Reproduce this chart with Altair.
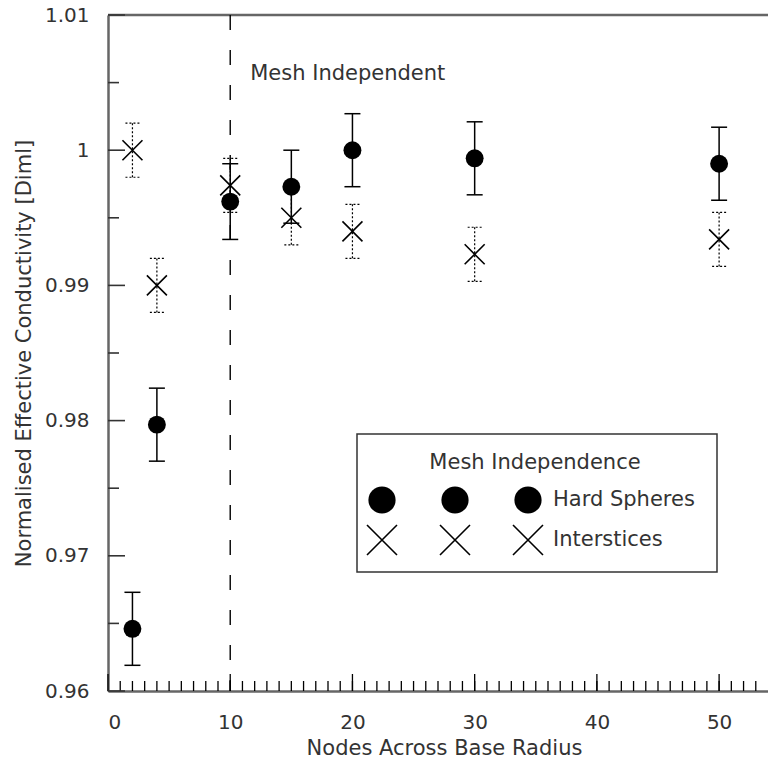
import altair as alt
import pandas as pd

# ---- data ----
nodes = [2, 4, 10, 15, 20, 30, 50]
hard_mean = [0.9646, 0.9797, 0.9962, 0.9973, 1.0000, 0.9994, 0.9990]
hard_err = [0.0027, 0.0027, 0.0028, 0.0027, 0.0027, 0.0027, 0.0027]
inter_mean = [1.0000, 0.9900, 0.9974, 0.9950, 0.9940, 0.9923, 0.9934]
inter_err = [0.0020, 0.0020, 0.0020, 0.0020, 0.0020, 0.0020, 0.0020]

x_major = [0, 10, 20, 30, 40, 50]
x_minor = list(range(1, 54))
y_major = [0.96, 0.97, 0.98, 0.99, 1.00, 1.01]
y_minor = [0.965, 0.975, 0.985, 0.995, 1.005]
mesh_line = [10]

legend_title = "Mesh Independence"
series_names = ["Hard Spheres", "Interstices"]
annotation = "Mesh Independent"

FONT = "DejaVu Sans"
TXT = "#333333"
W, H = 660, 676

hard = pd.DataFrame({"x": nodes, "y": hard_mean,
                     "lo": [m - e for m, e in zip(hard_mean, hard_err)],
                     "hi": [m + e for m, e in zip(hard_mean, hard_err)]})
inter = pd.DataFrame({"x": nodes, "y": inter_mean,
                      "lo": [m - e for m, e in zip(inter_mean, inter_err)],
                      "hi": [m + e for m, e in zip(inter_mean, inter_err)]})

xs = alt.Scale(domain=[0, 54], nice=False, zero=False)
ys = alt.Scale(domain=[0.96, 1.01], nice=False, zero=False)

x_axis = alt.Axis(values=x_major, title="Nodes Across Base Radius", grid=False,
                  ticks=False, tickSize=0, labelPadding=21, labelFont=FONT,
                  labelFontSize=20, labelColor=TXT, domainColor="#666666",
                  domainWidth=2.5, titleFont=FONT, titleFontSize=21,
                  titleFontWeight="normal", titleColor=TXT, titleX=336,
                  titleY=46, titleBaseline="top")
y_axis = alt.Axis(values=y_major, format="~g",
                  title="Normalised Effective Conductivity [Diml]", grid=False,
                  ticks=False, tickSize=0, labelPadding=19, labelFont=FONT,
                  labelFontSize=20, labelColor=TXT, domainColor="#666666",
                  domainWidth=2.5, titleFont=FONT, titleFontSize=21,
                  titleFontWeight="normal", titleColor=TXT, titleX=-84,
                  titleY=338, titleBaseline="middle", titleAngle=270)

X_PATH = "M-1,-1L1,1M-1,1L1,-1"


def X(field):
    return alt.X(field, type="quantitative", scale=xs, axis=x_axis)


def Y(field):
    return alt.Y(field, type="quantitative", scale=ys, axis=y_axis)


one = pd.DataFrame({"a": [0]})

top_line = alt.Chart(one).mark_rule(color="#666666", strokeWidth=2.5).encode(
    x=alt.value(0), x2=alt.value(W), y=alt.value(0))

# inward ticks
xminor = alt.Chart(pd.DataFrame({"v": x_minor})).mark_rule(
    color="black", strokeWidth=1.3).encode(
    x=X("v"), y=alt.value(H), y2=alt.value(H - 10))
xmajor = alt.Chart(pd.DataFrame({"v": x_major})).mark_rule(
    color="black", strokeWidth=1.3).encode(
    x=X("v"), y=alt.value(H), y2=alt.value(H - 17))
yminor = alt.Chart(pd.DataFrame({"v": y_minor})).mark_rule(
    color="#333333", strokeWidth=1.6).encode(
    y=Y("v"), x=alt.value(0), x2=alt.value(11))
ymajor = alt.Chart(pd.DataFrame({"v": y_major})).mark_rule(
    color="#333333", strokeWidth=1.6).encode(
    y=Y("v"), x=alt.value(0), x2=alt.value(17))

mesh = alt.Chart(pd.DataFrame({"x": mesh_line})).mark_rule(
    color="black", strokeWidth=1.4, strokeDash=[15, 20]).encode(x=X("x"))

mesh_text = alt.Chart(pd.DataFrame({"x": mesh_line})).mark_text(
    text=annotation, font=FONT, fontSize=21, color=TXT, align="left",
    baseline="alphabetic", dx=20).encode(x=X("x"), y=alt.value(65))

# hard spheres
h_bar = alt.Chart(hard).mark_rule(color="black", strokeWidth=1.5).encode(
    x=X("x"), y=Y("lo"), y2="hi")
h_cap_hi = alt.Chart(hard).mark_rule(color="black", strokeWidth=1.5,
                                     xOffset=-8, x2Offset=8).encode(
    x=X("x"), x2="x", y=Y("hi"))
h_cap_lo = alt.Chart(hard).mark_rule(color="black", strokeWidth=1.5,
                                     xOffset=-8, x2Offset=8).encode(
    x=X("x"), x2="x", y=Y("lo"))
h_pts = alt.Chart(hard).mark_point(shape="circle", filled=True, size=320,
                                   color="black", opacity=1).encode(
    x=X("x"), y=Y("y"))

# interstices
i_bar = alt.Chart(inter).mark_rule(color="black", strokeWidth=1.2,
                                   strokeDash=[2, 2]).encode(
    x=X("x"), y=Y("lo"), y2="hi")
i_cap_hi = alt.Chart(inter).mark_rule(color="black", strokeWidth=1.2,
                                      strokeDash=[2, 2],
                                      xOffset=-7, x2Offset=7).encode(
    x=X("x"), x2="x", y=Y("hi"))
i_cap_lo = alt.Chart(inter).mark_rule(color="black", strokeWidth=1.2,
                                      strokeDash=[2, 2],
                                      xOffset=-7, x2Offset=7).encode(
    x=X("x"), x2="x", y=Y("lo"))
i_pts = alt.Chart(inter).mark_point(shape=X_PATH, filled=False, size=400,
                                    color="black", strokeWidth=1.6,
                                    opacity=1).encode(
    x=X("x"), y=Y("y"))

# legend box (manual, KaleidaGraph style)
lg_box = alt.Chart(one).mark_rect(fill="white", stroke="#333333",
                                  strokeWidth=1.5).encode(
    x=alt.value(249), x2=alt.value(609), y=alt.value(419), y2=alt.value(557))
lg_title = alt.Chart(one).mark_text(text=legend_title, font=FONT, fontSize=21,
                                    color=TXT, align="center",
                                    baseline="middle").encode(
    x=alt.value(427), y=alt.value(448))
legend_layers = [lg_box, lg_title]
for px in [274, 347, 420]:
    legend_layers.append(alt.Chart(one).mark_point(
        shape="circle", filled=True, size=740, color="black",
        opacity=1).encode(x=alt.value(px), y=alt.value(485)))
    legend_layers.append(alt.Chart(one).mark_point(
        shape=X_PATH, filled=False, size=900, color="black", strokeWidth=1.6,
        opacity=1).encode(x=alt.value(px), y=alt.value(525)))
for name, py in zip(series_names, [485, 525]):
    legend_layers.append(alt.Chart(one).mark_text(
        text=name, font=FONT, fontSize=21, color=TXT, align="left",
        baseline="middle").encode(x=alt.value(445), y=alt.value(py)))

chart = alt.layer(
    top_line, xminor, xmajor, yminor, ymajor, mesh, mesh_text,
    h_bar, h_cap_hi, h_cap_lo, h_pts,
    i_bar, i_cap_hi, i_cap_lo, i_pts,
    *legend_layers
).properties(
    width=W, height=H,
    autosize=alt.AutoSizeParams(type="none"),
    padding={"left": 108, "top": 15, "right": 0, "bottom": 69},
    background="white",
).configure_view(stroke=None)

chart.save("out.html", embed_options={"renderer": "svg", "actions": False})
